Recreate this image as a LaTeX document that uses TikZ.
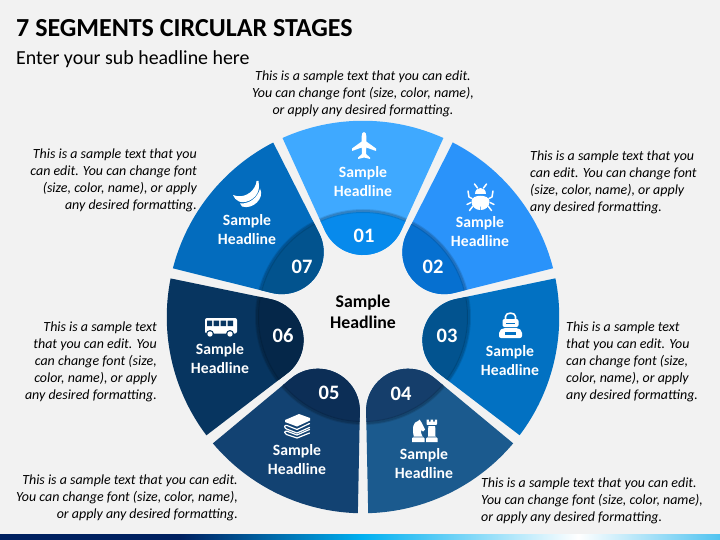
\documentclass[tikz,border=0pt]{standalone}
\usepackage{fontspec}
\setmainfont{Carlito}
\usetikzlibrary{shadings}
\definecolor{bg}{HTML}{F2F2F2}
\definecolor{mA}{HTML}{3FA9FF}\definecolor{lA}{HTML}{078AEC}
\definecolor{mB}{HTML}{2A93FA}\definecolor{lB}{HTML}{0670D0}
\definecolor{mC}{HTML}{0271C2}\definecolor{lC}{HTML}{02538F}
\definecolor{mD}{HTML}{1B5A8E}\definecolor{lD}{HTML}{153E6B}
\definecolor{mE}{HTML}{124272}\definecolor{lE}{HTML}{0C2E56}
\definecolor{mF}{HTML}{073560}\definecolor{lF}{HTML}{052749}
\definecolor{mG}{HTML}{036CBE}\definecolor{lG}{HTML}{02538E}
\definecolor{navy}{RGB}{0,32,96}
\definecolor{cyanb}{RGB}{0,176,240}
\definecolor{lightb}{RGB}{80,195,240}
\tikzset{
  desc/.style={font=\fontsize{13.95}{17}\selectfont\itshape,text=black,inner sep=0pt,yshift=-0.8pt},
  seglabel/.style={font=\fontsize{15.7}{19}\selectfont\bfseries,text=white,align=center,inner sep=0pt},
  numlabel/.style={font=\fontsize{20.5}{20}\selectfont\bfseries,text=white,inner sep=0pt},
  ico/.style={white,line width=1.5pt,line cap=round,line join=round}
}
\newcommand{\segpath}{(-80.5,179) arc[start angle=114.2,end angle=65.8,radius=196.3] -- (38.2,86.5) arc[start angle=-24.6,end angle=-155.4,radius=42] -- cycle}
\begin{document}
\begin{tikzpicture}[x=1pt,y=-1pt]
\useasboundingbox (0,0) rectangle (720,540);
\fill[bg] (0,0) rectangle (720,540);
% bottom band
\fill[navy] (0,534) rectangle (180,540);
\fill[left color=navy,right color=cyanb] (180,534) rectangle (362,540);
\fill[left color=cyanb,right color=white] (362,534) rectangle (578,540);
\fill[left color=white,right color=lightb] (578,534) rectangle (720,540);
% segments
\foreach \k/\mc/\lc in {0/mA/lA,1/mB/lB,2/mC/lC,3/mD/lD,4/mE/lE,5/mF/lF,6/mG/lG}{
 \begin{scope}[shift={(363,317)},x=1pt,y=1pt,rotate=-\k*51.4286]
  \fill[\mc] \segpath;
  \begin{scope}
   \clip \segpath;
   \fill[\lc] (0,0) circle[radius=105];
   \draw[black,opacity=.10,line width=4pt] (0,0) circle[radius=106];
   \draw[black,opacity=.14,line width=2pt] (0,0) circle[radius=106];
  \end{scope}
 \end{scope}
}
% title
\node[anchor=west,inner sep=0pt,font=\fontsize{26}{28}\selectfont\bfseries] (title) at (16,28.5) {7 SEGMENTS CIRCULAR STAGES};
\node[anchor=west,inner sep=0pt,font=\fontsize{19.9}{22}\selectfont] (sub) at (16,59.5) {Enter your sub headline here};
% descriptions
\node[desc,align=center] (d1) at (363,93.5) {This is a sample text that you can edit.\\You can change font (size, color, name),\\or apply any desired formatting.};
\node[desc,align=left,anchor=west] (d2) at (530,181.5) {This is a sample text that you\\can edit. You can change font\\(size, color, name), or apply\\any desired formatting.};
\node[desc,align=left,anchor=west] (d3) at (566,361.5) {This is a sample text\\that you can edit. You\\can change font (size,\\color, name), or apply\\any desired formatting.};
\node[desc,align=left,anchor=west] (d4) at (481,500.5) {This is a sample text that you can edit.\\You can change font (size, color, name),\\or apply any desired formatting.};
\node[desc,align=right,anchor=east] (d5) at (238,497.5) {This is a sample text that you can edit.\\You can change font (size, color, name),\\or apply any desired formatting.};
\node[desc,align=right,anchor=east] (d6) at (157,361.5) {This is a sample text\\that you can edit. You\\can change font (size,\\color, name), or apply\\any desired formatting.};
\node[desc,align=right,anchor=east] (d7) at (197,179.5) {This is a sample text that you\\can edit. You can change font\\(size, color, name), or apply\\any desired formatting.};
% segment labels
\node[seglabel] (s1) at (363,181.5) {Sample\\Headline};
\node[seglabel] (s2) at (480,231.5) {Sample\\Headline};
\node[seglabel] (s3) at (510,360.5) {Sample\\Headline};
\node[seglabel] (s4) at (424,463.5) {Sample\\Headline};
\node[seglabel] (s5) at (297,459.5) {Sample\\Headline};
\node[seglabel] (s6) at (220,358.5) {Sample\\Headline};
\node[seglabel] (s7) at (247,229.5) {Sample\\Headline};
\node[numlabel] (n1) at (364,236) {01};
\node[numlabel] (n2) at (433,267) {02};
\node[numlabel] (n3) at (447,336) {03};
\node[numlabel] (n4) at (401,394) {04};
\node[numlabel] (n5) at (329,393) {05};
\node[numlabel] (n6) at (283,336) {06};
\node[numlabel] (n7) at (302,267) {07};
\node[inner sep=0pt,align=center,font=\fontsize{17.8}{21}\selectfont\bfseries] (c) at (363,311.5) {Sample\\Headline};
% plane
\fill[white] (364,132) .. controls (365.5,132) and (366.3,134) .. (366.3,136) -- (366.3,141.5) -- (376,148.5) -- (376,151) -- (366.3,147.5) -- (366,154) -- (370,157.5) -- (370,159) -- (364,157.5) -- (358,159) -- (358,157.5) -- (362,154) -- (361.7,147.5) -- (352,151) -- (352,148.5) -- (361.7,141.5) -- (361.7,136) .. controls (361.7,134) and (362.5,132) .. (364,132) -- cycle;
% bug
\fill[white] (475,194) .. controls (475,186.5) and (486,186.5) .. (486,194) -- cycle;
\fill[white] (471.5,201) .. controls (472,194) and (489,194) .. (489.5,201) .. controls (489.5,207) and (485,210) .. (481,210) -- (480.5,203) -- (480,210) .. controls (476,210) and (471.5,207) .. (471.5,201) -- cycle;
\draw[ico] (477.5,188) -- (474.5,184) (483.5,188) -- (486.5,184);
\draw[ico] (472,198.5) -- (469,197) -- (468,191) (489,198.5) -- (492,197) -- (493,191);
\draw[ico] (471,202.5) -- (467,204.5) (490,202.5) -- (494,204.5);
\draw[ico] (473,206) -- (469.5,210.5) (488,206) -- (491.5,210.5);
% backpack
\draw[ico,line width=1.6pt] (505.5,320) -- (505.5,316.5) .. controls (505.5,312) and (515.5,312) .. (515.5,316.5) -- (515.5,320);
\fill[white,rounded corners=2pt] (502.5,327) -- (502.5,319) -- (518.5,319) -- (518.5,327) -- cycle;
\fill[mC] (506,322.5) rectangle (515,323.6);
\fill[white,rounded corners=2pt] (499,338) -- (499,331) -- (503,328) -- (518,328) -- (522,331) -- (522,338) -- cycle;
\fill[mC] (505,332) rectangle (516,335);
% chess
\fill[white] (412,442) -- (424.5,442) -- (424.5,438.5) -- (422.5,436.5) .. controls (421,434) and (420.5,431) .. (421,430) -- (423,431.5) -- (425,429.5) -- (421.5,422.5) -- (419.5,419.5) -- (418,421) .. controls (413,422) and (412,428) .. (413.8,436.5) -- (412,438.5) -- cycle;
\fill[white] (426,442) -- (437.5,442) -- (437.5,438.5) -- (435.5,436.5) -- (435.2,426) -- (437,424) -- (437,419.5) -- (434.8,419.5) -- (434.8,421.5) -- (433,421.5) -- (433,419.5) -- (430.7,419.5) -- (430.7,421.5) -- (428.8,421.5) -- (428.8,419.5) -- (426.5,419.5) -- (426.5,424) -- (428.3,426) -- (428,436.5) -- (426,438.5) -- cycle;
\fill[mD] (427,425) rectangle (436.5,425.8) (427,436.6) rectangle (436.5,437.4) (413,436.6) rectangle (423.5,437.4);
% books
\fill[white] (285,420) -- (299,414) -- (310,418) -- (310,420.5) -- (297,426.5) -- (285,422) -- cycle;
\draw[ico,line width=1.2pt] (309.5,423.5) -- (297,429.5) -- (287,425.5) .. controls (284,424.5) and (284,428) .. (286.5,429) -- (297,433) -- (309.5,427.5);
\draw[ico,line width=1.2pt] (309.5,429.5) -- (297,435) -- (287,431.2) .. controls (284,430.5) and (284,434) .. (286.5,434.5) -- (297,438) -- (309.5,433);
% bus
\fill[white,rounded corners=2pt] (205,318) rectangle (237,333.5);
\fill[mF] (207,320.7) rectangle (212,326) (213.5,320.7) rectangle (219,326) (220.5,320.7) rectangle (226,326) (227.5,320.7) rectangle (233,326);
\fill[mF] (210,334) circle[radius=4pt] (230,334) circle[radius=4pt];
\fill[white] (210,334) circle[radius=2.7pt] (230,334) circle[radius=2.7pt];
% banana
\fill[white] (233,195) .. controls (243,199) and (253,193) .. (256,184) -- (256.5,181) -- (258.5,181) -- (259,186) .. controls (259.5,197) and (247,204.5) .. (239,201.5) .. controls (236,200) and (234,198) .. (233,195) -- cycle;
\fill[white] (240,203.5) .. controls (250,204) and (258,197) .. (260,188.5) .. controls (265,198) and (253,210) .. (242,206.5) -- cycle;
\end{tikzpicture}
\end{document}
